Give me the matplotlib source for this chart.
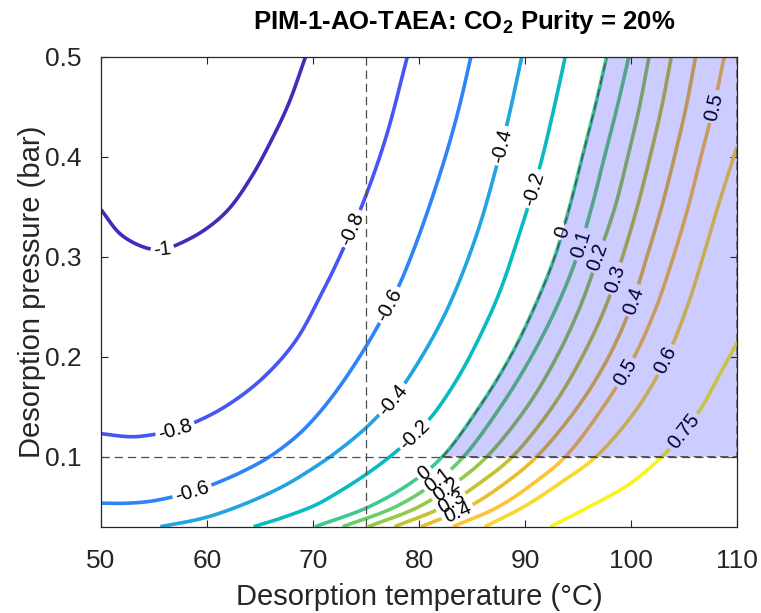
"""Contour map of the CO2 purity margin for PIM-1-AO-TAEA over desorption
temperature and pressure, with the feasible window shaded.

Contour lines are traced point by point from the original MATLAB figure.
Output: out.png
"""

import numpy as np
import matplotlib

matplotlib.use("Agg")
import matplotlib.pyplot as plt
from matplotlib.colors import LinearSegmentedColormap, Normalize
from matplotlib.patches import Polygon

plt.rcParams["font.family"] = ["Liberation Sans", "DejaVu Sans"]
plt.rcParams["mathtext.fontset"] = "custom"
plt.rcParams["mathtext.rm"] = "Liberation Sans"
plt.rcParams["mathtext.bf"] = "Liberation Sans:bold"
plt.rcParams["lines.scale_dashes"] = False

# ---------------------------------------------------------------------------
# Data: traced contour lines, (temperature degC, pressure bar)
# ---------------------------------------------------------------------------

levels = [-1, -0.8, -0.6, -0.4, -0.2, 0, 0.1, 0.2, 0.3, 0.4, 0.5, 0.6, 0.75]
level_text = ["-1", "-0.8", "-0.6", "-0.4", "-0.2", "0", "0.1", "0.2",
              "0.3", "0.4", "0.5", "0.6", "0.75"]

t_m100 = [50.0, 51.9, 54.2, 55.8, 57.4, 59.8, 62.0, 64.2, 66.1, 67.7, 69.3]
p_m100 = [0.347, 0.322, 0.309, 0.307, 0.313, 0.327, 0.347, 0.380, 0.417, 0.453, 0.500]

t_m080 = [50.0, 52.7, 54.2, 57.0, 59.4, 62.0, 65.2, 68.3, 70.9, 72.6, 74.8, 76.9, 78.9]
p_m080 = [0.123, 0.120, 0.121, 0.127, 0.137, 0.152, 0.178, 0.215, 0.265, 0.302, 0.356, 0.420, 0.500]

t_m060 = [50.0, 52.5, 55.0, 58.6, 61.2, 63.7, 65.9, 68.4, 70.1, 72.3, 75.1, 77.3, 78.4, 80.2, 82.4, 83.8, 84.9]
p_m060 = [0.0535, 0.0535, 0.056, 0.065, 0.075, 0.087, 0.100, 0.120, 0.138, 0.167, 0.212, 0.254, 0.278, 0.327, 0.397, 0.450, 0.500]

t_m040 = [55.6, 59.8, 63.6, 67.1, 69.5, 72.0, 75.0, 77.5, 79.2, 81.7, 83.4, 85.5, 87.0, 88.4, 89.7]
p_m040 = [0.030, 0.039, 0.053, 0.070, 0.085, 0.103, 0.129, 0.157, 0.182, 0.227, 0.265, 0.324, 0.378, 0.437, 0.500]

t_m020 = [64.4, 67.1, 70.1, 72.0, 75.1, 77.6, 79.6, 81.4, 83.9, 86.4, 87.8, 89.6, 90.8, 91.6, 92.7, 93.8]
p_m020 = [0.030, 0.039, 0.051, 0.062, 0.083, 0.103, 0.122, 0.143, 0.183, 0.235, 0.270, 0.327, 0.368, 0.398, 0.447, 0.500]

p_pos = [0.03, 0.05, 0.075, 0.1, 0.15, 0.2, 0.25, 0.3, 0.35, 0.4, 0.45, 0.5]
t_p000 = [70.2, 75.3, 79.4, 82.2, 85.7, 88.6, 90.9, 92.8, 94.2, 95.4, 96.6, 97.7]
t_p010 = [72.8, 77.8, 81.6, 84.2, 87.7, 90.6, 93.0, 94.9, 96.3, 97.5, 98.7, 99.8]
t_p020 = [75.2, 80.0, 83.6, 86.4, 90.2, 93.0, 95.2, 96.9, 98.5, 99.7, 100.8, 101.7]
t_p030 = [77.7, 82.3, 85.9, 88.8, 92.6, 95.4, 97.6, 99.2, 100.6, 101.8, 102.9, 103.8]
t_p040 = [80.2, 84.7, 88.3, 91.1, 95.0, 97.9, 100.0, 101.5, 102.9, 104.1, 105.2, 106.1]
t_p050 = [83.2, 87.5, 91.0, 93.8, 97.4, 100.3, 102.4, 104.0, 105.4, 106.6, 107.8, 108.8]

t_p060 = [86.2, 89.9, 93.5, 96.7, 100.7, 103.4, 105.3, 106.8, 108.2, 110.0]
p_p060 = [0.03, 0.05, 0.075, 0.1, 0.15, 0.2, 0.25, 0.3, 0.35, 0.41]

t_p075 = [92.4, 95.7, 99.9, 103.2, 105.0, 106.7, 108.1, 110.0]
p_p075 = [0.03, 0.048, 0.073, 0.103, 0.125, 0.15, 0.177, 0.214]

lines_t = [t_m100, t_m080, t_m060, t_m040, t_m020, t_p000, t_p010, t_p020,
           t_p030, t_p040, t_p050, t_p060, t_p075]
lines_p = [p_m100, p_m080, p_m060, p_m040, p_m020, p_pos, p_pos, p_pos,
           p_pos, p_pos, p_pos, p_p060, p_p075]

# inline label positions for each level
label_pos = [
    [(55.8, 0.307)],
    [(57.0, 0.127), (73.7, 0.329)],
    [(58.6, 0.065), (77.3, 0.252)],
    [(77.5, 0.157), (87.7, 0.410)],
    [(79.6, 0.122), (90.8, 0.368)],
    [(80.5, 0.083), (93.6, 0.325)],
    [(81.8, 0.078), (95.2, 0.313)],
    [(82.4, 0.067), (96.8, 0.302)],
    [(83.1, 0.055), (98.2, 0.280)],
    [(83.8, 0.044), (99.9, 0.257)],
    [(99.5, 0.183), (107.9, 0.450)],
    [(103.2, 0.197)],
    [(105.0, 0.125)],
]

t_design = 75.0       # vertical reference line
p_design = 0.1        # horizontal reference line

# ---------------------------------------------------------------------------
# Colour map (MATLAB parula)
# ---------------------------------------------------------------------------

parula_anchors = [
    (0.2422, 0.1504, 0.6603), (0.2647, 0.1978, 0.7952), (0.2803, 0.2782, 0.9221),
    (0.2795, 0.3447, 0.9717), (0.2440, 0.4358, 0.9988), (0.1834, 0.5074, 0.9798),
    (0.1687, 0.5703, 0.9359), (0.1380, 0.6276, 0.8973), (0.0952, 0.6798, 0.8598),
    (0.0036, 0.7203, 0.7917), (0.0433, 0.7411, 0.7394), (0.1717, 0.7670, 0.6554),
    (0.2470, 0.7918, 0.5567), (0.3909, 0.8029, 0.4354), (0.5616, 0.7942, 0.3045),
    (0.7242, 0.7698, 0.1910), (0.8634, 0.7406, 0.1596), (0.9728, 0.7298, 0.2394),
    (0.9952, 0.7893, 0.2028), (0.9676, 0.8639, 0.1643), (0.9628, 0.9373, 0.1265),
    (0.9769, 0.9839, 0.0805),
]
parula = LinearSegmentedColormap.from_list("parula", parula_anchors)
norm = Normalize(vmin=-1.05, vmax=0.8)

# ---------------------------------------------------------------------------
# Figure
# ---------------------------------------------------------------------------

W, H = 761, 613
fig = plt.figure(figsize=(W / 100, H / 100), dpi=100)
ax = fig.add_axes([101 / W, (H - 526.7) / H, 636 / W, 470 / H])
ax.set_xlim(50, 110)
ax.set_ylim(0.03, 0.5)

renderer = fig.canvas.get_renderer()
inv = ax.transData.inverted()
LABEL_FS = 14.5
DASH = (0, (6, 3.5))


def smooth_display(xy, n=16):
    """Centripetal Catmull-Rom through the traced points (rendering only)."""
    P = np.vstack([2 * xy[0] - xy[1], xy, 2 * xy[-1] - xy[-2]])
    out = [xy[0]]
    for i in range(1, len(P) - 2):
        p0, p1, p2, p3 = P[i - 1], P[i], P[i + 1], P[i + 2]
        t0 = 0.0
        t1 = t0 + max(np.hypot(*(p1 - p0)), 1e-6) ** 0.5
        t2 = t1 + max(np.hypot(*(p2 - p1)), 1e-6) ** 0.5
        t3 = t2 + max(np.hypot(*(p3 - p2)), 1e-6) ** 0.5
        for t in np.linspace(t1, t2, n + 1)[1:]:
            a1 = (t1 - t) / (t1 - t0) * p0 + (t - t0) / (t1 - t0) * p1
            a2 = (t2 - t) / (t2 - t1) * p1 + (t - t1) / (t2 - t1) * p2
            a3 = (t3 - t) / (t3 - t2) * p2 + (t - t2) / (t3 - t2) * p3
            b1 = (t2 - t) / (t2 - t0) * a1 + (t - t0) / (t2 - t0) * a2
            b2 = (t3 - t) / (t3 - t1) * a2 + (t - t1) / (t3 - t1) * a3
            out.append((t2 - t) / (t2 - t1) * b1 + (t - t1) / (t2 - t1) * b2)
    return np.array(out)


def point_at(xy, s, sv):
    i = int(np.clip(np.searchsorted(s, sv) - 1, 0, len(s) - 2))
    f = (sv - s[i]) / max(s[i + 1] - s[i], 1e-9)
    return xy[i] + f * (xy[i + 1] - xy[i])


def draw_level(tv, pv, color, text, labels):
    xy = smooth_display(ax.transData.transform(np.column_stack([tv, pv])))
    seg = np.hypot(*np.diff(xy, axis=0).T)
    s = np.concatenate([[0.0], np.cumsum(seg)])
    cuts = []
    for lt, lp in labels:
        c = ax.transData.transform((lt, lp))
        i = int(np.argmin(np.hypot(*(xy - c).T)))
        s0 = s[i]
        j0, j1 = max(i - 3, 0), min(i + 3, len(xy) - 1)
        d = xy[j1] - xy[j0]
        ang = np.degrees(np.arctan2(d[1], d[0]))
        if ang > 90:
            ang -= 180
        elif ang < -90:
            ang += 180
        pos = inv.transform(xy[i])
        txt = ax.text(pos[0], pos[1], text, fontsize=LABEL_FS, color="black",
                      ha="center", va="center", rotation_mode="anchor", zorder=3)
        w = txt.get_window_extent(renderer).width + 6
        txt.set_rotation(ang)
        cuts.append((s0 - w / 2, s0 + w / 2))
    cuts.sort()
    start = 0.0
    for a, b in cuts + [(s[-1], s[-1])]:
        if a > start:
            inner = [xy[k] for k in range(len(s)) if start < s[k] < a]
            pts = np.array([point_at(xy, s, start)] + inner + [point_at(xy, s, a)])
            dpts = inv.transform(pts)
            ax.plot(dpts[:, 0], dpts[:, 1], color=color, lw=2.6,
                    solid_capstyle="butt", zorder=2)
        start = max(start, b)
    return inv.transform(xy)


zero_curve = None
for lev, txt, tv, pv, labs in zip(levels, level_text, lines_t, lines_p, label_pos):
    curve = draw_level(tv, pv, parula(norm(lev)), txt, labs)
    if lev == 0:
        zero_curve = curve

# shaded feasible window: above p = 0.1, right of the zero contour
keep = zero_curve[:, 1] >= p_design - 1e-6
poly = [tuple(q) for q in zero_curve[keep]] + [(110, 0.5), (110, p_design)]
ax.add_patch(Polygon(poly, closed=True, facecolor=(0, 0, 1, 0.2),
                     edgecolor="0.3", lw=0.9, ls=DASH, zorder=4))

ax.axhline(p_design, color="0.3", lw=0.9, ls=DASH, zorder=5)
ax.axvline(t_design, color="0.3", lw=0.9, ls=DASH, zorder=5)

# axes styling (MATLAB look)
ax.set_xticks([50, 60, 70, 80, 90, 100, 110])
ax.set_yticks([0.1, 0.2, 0.3, 0.4, 0.5])
ax.set_yticklabels(["0.1", "0.2", "0.3", "0.4", "0.5"])
ax.tick_params(direction="in", length=5, width=0.8, top=True, right=True,
               labelsize=19, colors="#262626")
ax.tick_params(axis="x", pad=16)
ax.tick_params(axis="y", pad=14)
for sp in ax.spines.values():
    sp.set_color("#262626")
    sp.set_linewidth(0.9)
    sp.set_zorder(6)

ax.set_xlabel("Desorption temperature (°C)", fontsize=21, color="#262626")
ax.set_ylabel("Desorption pressure (bar)", fontsize=21, color="#262626")
ax.xaxis.set_label_coords(0.5, -(583 - 526.7) / 470)
ax.yaxis.set_label_coords((46 - 101) / 636, 0.5)

fig.text(464 / W, 1 - 22 / H, r"PIM-1-AO-TAEA: CO$_\mathbf{2}$ Purity = 20%",
         fontsize=18.5, fontweight="bold", ha="center", va="center", color="black")

fig.savefig("out.png", dpi=100)
plt.close(fig)
